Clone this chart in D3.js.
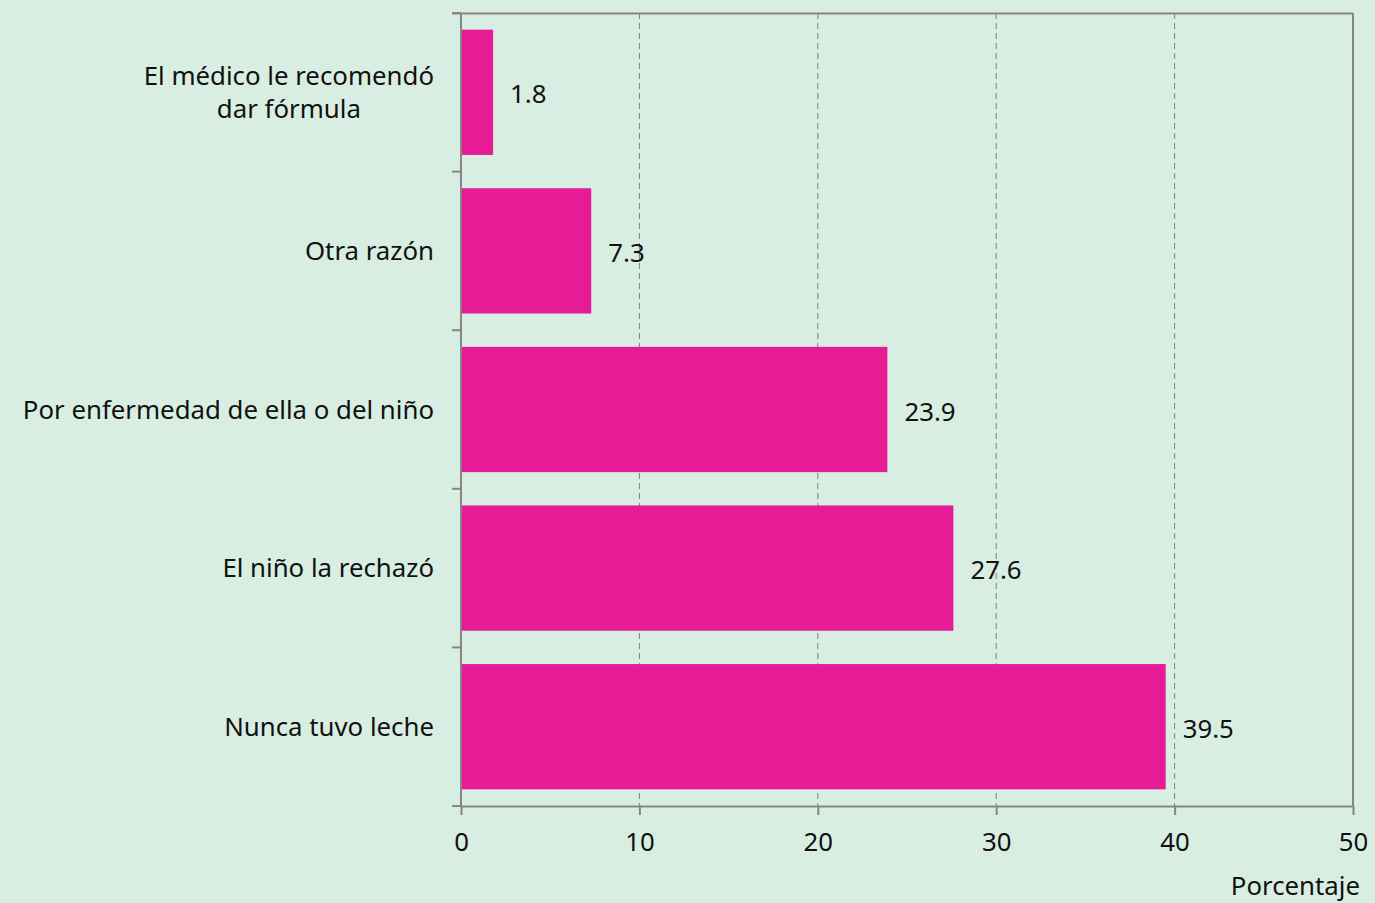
<!DOCTYPE html>
<html>
<head>
<meta charset="utf-8">
<script src="https://cdn.jsdelivr.net/npm/d3@7"></script>
<style>
  html, body { margin: 0; padding: 0; background: #d9eee3; }
  svg { display: block; }
  text { font-family: "Noto Sans", sans-serif; fill: #111; }
</style>
</head>
<body>
<svg id="chart" width="1375" height="903"></svg>
<script>
// Reasons for not breastfeeding (percent)
const categories = [
  ["El médico le recomendó", "dar fórmula"],
  ["Otra razón"],
  ["Por enfermedad de ella o del niño"],
  ["El niño la rechazó"],
  ["Nunca tuvo leche"]
];
const values = [1.8, 7.3, 23.9, 27.6, 39.5];
const xTicks = [0, 10, 20, 30, 40, 50];
const xTitle = "Porcentaje";

const W = 1375, H = 903;
const margin = { top: 13, right: 22, bottom: 97, left: 461 };
const svg = d3.select("#chart");
const g = svg.append("g").attr("transform", `translate(${margin.left},${margin.top})`);
const iw = W - margin.left - margin.right;
const ih = H - margin.top - margin.bottom;

const x = d3.scaleLinear().domain([0, 50]).range([0, iw]);
const y = d3.scaleBand().domain(d3.range(values.length)).range([0, ih])
  .paddingInner(0.21).paddingOuter(0.105);

const axisColor = "#868686";
const fontSize = 25.8;

// dashed vertical gridlines
g.selectAll(".grid").data(xTicks.filter(t => t > 0 && t < 50)).join("line")
  .attr("x1", d => x(d)).attr("x2", d => x(d))
  .attr("y1", 0).attr("y2", ih)
  .attr("stroke", "#7f7f7f").attr("stroke-width", 1)
  .attr("stroke-dasharray", "6,4");

// plot frame (top and right)
g.append("line").attr("x1", -9).attr("x2", iw).attr("y1", 0.5).attr("y2", 0.5)
  .attr("stroke", axisColor).attr("stroke-width", 2);
g.append("line").attr("x1", iw).attr("x2", iw).attr("y1", 0).attr("y2", ih)
  .attr("stroke", axisColor).attr("stroke-width", 2);

// bars
g.selectAll(".bar").data(values).join("rect")
  .attr("x", x(0))
  .attr("y", (d, i) => y(i))
  .attr("width", d => x(d) - x(0))
  .attr("height", y.bandwidth())
  .attr("fill", "#e61c96");

// value labels
g.selectAll(".val").data(values).join("text")
  .attr("x", d => x(d) + 17)
  .attr("y", (d, i) => y(i) + y.bandwidth() / 2 + 2)
  .attr("dy", "0.35em")
  .attr("font-size", fontSize)
  .text(d => d.toFixed(1));

// x axis
const xAxis = g.append("g").attr("transform", `translate(0,${ih})`)
  .call(d3.axisBottom(x).tickValues(xTicks).tickSize(9).tickPadding(18).tickSizeOuter(0));
xAxis.select(".domain").attr("stroke", axisColor).attr("stroke-width", 2);
xAxis.selectAll(".tick line").attr("stroke", axisColor).attr("stroke-width", 2);
xAxis.selectAll(".tick text").attr("font-size", fontSize).attr("font-family", "Noto Sans, sans-serif").attr("fill", "#111");

// y axis: line with ticks at category boundaries
g.append("line").attr("x1", 0).attr("x2", 0).attr("y1", 0).attr("y2", ih)
  .attr("stroke", axisColor).attr("stroke-width", 2);
const step = ih / values.length;
g.selectAll(".ytick").data(d3.range(values.length + 1)).join("line")
  .attr("x1", -9).attr("x2", 0)
  .attr("y1", d => d * step).attr("y2", d => d * step)
  .attr("stroke", axisColor).attr("stroke-width", 2);

// category labels
const labelX = -27;
categories.forEach((lines, i) => {
  const cy = y(i) + y.bandwidth() / 2;
  const lh = 33;
  const t = g.append("text")
    .attr("font-size", fontSize)
    .attr("text-anchor", lines.length > 1 ? "middle" : "end");
  if (lines.length === 1) {
    t.attr("x", labelX).attr("y", cy).attr("dy", "0.35em").text(lines[0]);
  } else {
    // measure widest line to center the block against the right edge
    const tmp = g.append("text").attr("font-size", fontSize).text(lines[0]);
    const wmax = d3.max(lines, l => { tmp.text(l); return tmp.node().getComputedTextLength(); });
    tmp.remove();
    const cx = labelX - wmax / 2;
    lines.forEach((l, k) => {
      t.append("tspan").attr("x", cx)
        .attr("y", cy + (k - (lines.length - 1) / 2) * lh)
        .attr("dy", "0.35em").text(l);
    });
  }
});

// axis title
svg.append("text")
  .attr("x", 1360).attr("y", 895)
  .attr("text-anchor", "end")
  .attr("font-size", fontSize)
  .text(xTitle);
</script>
</body>
</html>
